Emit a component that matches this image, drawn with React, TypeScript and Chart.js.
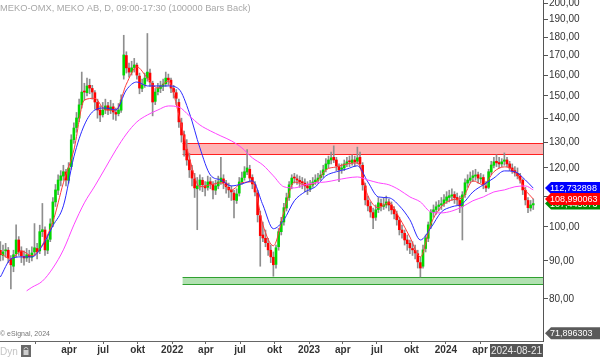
import React, { useEffect, useRef } from 'react';
import { Chart, registerables } from 'chart.js';

Chart.register(...registerables);

// Weekly bars; first bar is 458 days before 2022-01-01, one bar per week.
const START_DAY = -458;

const opens = [
  93.0, 91.5, 92.8, 93.0, 90.5, 88.5, 92.0, 96.0, 92.8, 91.2, 90.8, 91.5, 91.0, 92.5, 93.5, 92.8, 98.5, 99.0, 93.0, 96.2,
  101.0, 108.0, 112.0, 115.5, 117.0, 118.5, 115.5, 120.5, 131.0, 136.0, 140.0, 146.0, 152.0, 151.5, 155.0, 153.5, 151.5, 147.0, 143.5, 141.5,
  143.8, 145.5, 143.5, 145.0, 142.5, 142.0, 143.5, 160.0, 170.0, 163.5, 161.5, 163.8, 165.0, 159.5, 153.5, 155.5, 158.5, 161.0, 156.0, 147.5,
  152.0, 153.5, 154.5, 155.8, 158.5, 157.5, 153.5, 151.5, 147.0, 138.0, 133.0, 127.0, 123.0, 119.0, 116.0, 112.5, 113.8, 115.5, 113.5, 113.0,
  115.0, 114.0, 112.0, 113.5, 115.0, 116.0, 114.5, 113.0, 112.0, 111.0, 108.5, 111.0, 115.0, 116.5, 118.5, 119.5, 116.5, 114.0, 111.0, 103.5,
  97.5, 96.5, 95.0, 93.0, 91.0, 89.0, 94.0, 98.5, 101.5, 106.0, 109.5, 114.0, 116.5, 116.0, 115.5, 115.0, 114.5, 113.5, 112.5, 113.8,
  115.0, 115.5, 116.5, 117.5, 119.5, 121.5, 123.0, 124.0, 123.0, 120.5, 119.5, 120.0, 121.5, 122.5, 122.0, 123.0, 122.5, 124.0, 121.0, 113.5,
  108.5, 106.5, 104.5, 103.0, 105.5, 107.5, 106.5, 107.0, 108.0, 107.0, 105.5, 104.0, 102.0, 99.0, 98.0, 96.0, 95.0, 93.5, 93.0, 92.0,
  89.5, 88.5, 93.5, 96.5, 100.5, 104.5, 105.5, 106.5, 107.0, 107.5, 108.5, 109.5, 110.0, 110.5, 109.5, 108.5, 106.5, 110.5, 114.5, 115.5,
  116.5, 117.0, 117.5, 116.0, 116.5, 113.5, 113.0, 118.5, 121.0, 122.5, 122.0, 121.5, 122.5, 123.0, 121.5, 120.0, 119.0, 118.0, 117.0, 115.5,
  112.0, 108.5, 106.0, 107.0,
];
const highs = [
  95.5, 94.5, 95.0, 93.8, 91.5, 93.0, 100.6, 97.0, 94.0, 92.8, 93.5, 93.0, 94.0, 101.0, 95.0, 100.5, 107.5, 100.0, 97.5, 102.5,
  109.5, 114.0, 117.5, 119.0, 121.0, 119.5, 122.0, 133.0, 138.0, 142.5, 148.5, 161.5, 156.0, 158.5, 158.0, 155.0, 152.5, 148.5, 145.5, 147.0,
  148.5, 147.0, 148.0, 146.5, 144.5, 146.5, 150.5, 181.0, 172.0, 166.0, 167.0, 168.5, 166.0, 161.0, 158.0, 161.0, 182.0, 163.0, 157.0, 153.5,
  156.0, 157.0, 158.0, 161.5, 160.5, 158.5, 155.0, 153.0, 148.5, 140.0, 134.5, 131.0, 125.5, 121.0, 118.0, 116.5, 117.5, 116.5, 115.0, 117.0,
  116.5, 115.0, 115.5, 117.0, 124.0, 117.5, 115.5, 114.5, 113.5, 112.0, 112.5, 116.5, 118.5, 120.5, 127.0, 121.0, 117.5, 115.0, 112.0, 105.0,
  101.5, 99.0, 96.5, 94.5, 92.5, 94.5, 99.5, 103.0, 107.5, 111.0, 115.0, 117.5, 118.0, 117.5, 117.0, 116.5, 116.0, 115.0, 115.5, 116.5,
  117.5, 118.0, 119.0, 121.0, 123.5, 124.5, 126.0, 128.5, 124.0, 121.5, 121.5, 123.0, 124.0, 124.5, 125.0, 124.5, 128.0, 126.0, 122.0, 114.5,
  110.0, 108.0, 106.0, 107.0, 109.5, 109.0, 109.5, 110.0, 109.0, 108.0, 106.5, 105.0, 103.0, 100.5, 99.0, 97.5, 96.0, 95.5, 94.5, 93.0,
  91.0, 94.5, 97.5, 101.5, 105.5, 107.0, 108.0, 108.5, 109.5, 110.5, 111.5, 112.0, 112.5, 111.5, 111.0, 110.0, 111.5, 116.0, 117.5, 118.5,
  119.0, 119.5, 118.5, 118.0, 117.5, 115.0, 119.5, 122.5, 124.0, 125.0, 124.0, 123.5, 125.7, 124.0, 122.5, 121.5, 120.5, 120.0, 118.0, 116.0,
  113.0, 109.5, 108.5, 109.0,
];
const lows = [
  90.0, 90.2, 91.0, 89.5, 82.5, 87.0, 91.0, 91.5, 89.5, 88.8, 89.8, 89.5, 90.0, 91.5, 90.5, 92.0, 97.0, 91.5, 92.0, 95.5,
  100.0, 106.5, 110.5, 113.5, 115.5, 113.5, 114.5, 119.5, 129.5, 134.0, 138.5, 144.5, 148.0, 150.0, 151.0, 148.5, 144.0, 140.0, 138.5, 140.5,
  142.0, 141.5, 142.0, 139.5, 139.0, 141.0, 142.5, 158.0, 161.0, 159.0, 160.0, 161.5, 158.0, 151.0, 152.0, 154.0, 157.0, 154.5, 141.0, 146.0,
  150.5, 151.5, 152.5, 154.5, 155.0, 151.5, 149.0, 146.0, 136.0, 130.0, 124.5, 121.0, 116.5, 113.5, 109.5, 99.1, 112.0, 111.5, 110.0, 112.0,
  112.5, 109.0, 110.5, 112.5, 114.0, 112.5, 111.0, 109.5, 108.5, 102.8, 107.5, 110.0, 114.0, 115.5, 117.5, 115.0, 112.5, 110.0, 101.5, 88.5,
  95.5, 94.0, 91.5, 89.5, 85.8, 88.0, 93.0, 97.5, 100.5, 105.0, 108.5, 112.5, 114.5, 114.0, 113.0, 112.5, 111.5, 110.5, 111.5, 113.0,
  114.0, 114.5, 115.5, 116.5, 118.5, 120.0, 121.5, 122.0, 119.0, 115.0, 118.0, 119.0, 120.5, 120.5, 121.0, 120.5, 121.5, 120.0, 112.0, 107.0,
  105.0, 103.0, 99.4, 102.0, 104.5, 105.0, 105.5, 106.0, 105.0, 104.0, 102.5, 100.5, 97.5, 96.5, 94.5, 93.0, 92.0, 91.5, 90.5, 88.0,
  85.6, 88.0, 92.5, 95.5, 99.5, 103.0, 104.0, 105.0, 105.5, 106.5, 107.5, 108.0, 108.5, 107.5, 107.0, 104.5, 96.0, 109.5, 113.0, 114.5,
  115.0, 115.5, 114.5, 114.5, 112.5, 111.5, 112.5, 117.5, 120.0, 120.5, 120.0, 120.5, 121.0, 120.5, 119.0, 118.0, 117.0, 116.0, 114.5, 110.5,
  107.0, 104.5, 105.0, 105.5,
];
const closes = [
  91.7, 92.5, 93.1, 90.8, 88.9, 91.7, 96.0, 92.5, 91.4, 90.8, 91.7, 91.1, 92.2, 93.7, 92.5, 98.5, 99.1, 93.1, 96.0, 100.9,
  108.0, 112.1, 115.6, 117.1, 118.6, 115.6, 120.0, 130.9, 135.8, 140.1, 145.9, 151.8, 151.8, 154.7, 153.7, 151.8, 147.2, 143.6, 141.4, 143.6,
  145.4, 143.6, 144.9, 142.7, 141.8, 143.6, 148.1, 170.3, 163.6, 161.5, 163.6, 165.1, 160.0, 153.7, 155.2, 158.5, 161.5, 156.6, 147.2, 151.8,
  153.7, 154.7, 155.6, 158.5, 157.6, 153.7, 151.8, 148.9, 138.4, 132.9, 126.9, 123.0, 119.3, 116.3, 112.8, 113.5, 115.6, 113.9, 112.8, 114.9,
  114.2, 112.1, 113.5, 114.9, 116.3, 114.6, 113.2, 112.1, 111.4, 108.7, 110.7, 114.9, 116.3, 118.6, 120.0, 116.3, 114.2, 111.4, 103.8, 97.3,
  96.6, 95.2, 93.1, 91.1, 88.9, 93.7, 98.5, 101.6, 106.1, 109.4, 113.9, 116.3, 116.3, 115.6, 114.9, 114.6, 113.5, 112.8, 113.5, 114.9,
  115.6, 116.3, 117.4, 119.3, 121.5, 123.0, 123.8, 123.0, 120.8, 119.3, 120.0, 121.5, 122.3, 122.3, 123.0, 122.3, 123.8, 121.5, 113.9, 108.7,
  106.7, 104.7, 102.8, 105.4, 107.7, 106.7, 107.0, 108.0, 107.0, 105.4, 104.1, 102.2, 99.1, 98.2, 96.0, 94.9, 93.7, 93.1, 92.2, 89.7,
  88.0, 93.1, 96.6, 100.6, 104.7, 105.4, 106.4, 107.0, 107.4, 108.7, 109.7, 110.1, 110.4, 109.4, 108.7, 106.7, 110.4, 114.6, 115.6, 116.3,
  117.1, 117.4, 116.3, 116.3, 113.9, 112.8, 118.6, 121.1, 122.3, 121.9, 121.5, 122.3, 123.0, 121.5, 120.0, 118.9, 118.2, 117.1, 115.6, 112.1,
  108.7, 106.1, 107.0, 107.445,
];

// Moving averages, read every 4 weeks (week index of each sample)
const maWeeks = [
  0, 4, 8, 12, 16, 20, 24, 28, 32, 36, 40, 44, 48, 52, 56, 60, 64, 68, 72, 76, 80, 84, 88, 92, 96, 100,
  104, 108, 112, 116, 120, 124, 128, 132, 136, 140, 144, 148, 152, 156, 160, 164, 168, 172, 176, 180, 184, 188, 192, 196, 200, 203,
];
const maFast = [
  92.2, 90.5, 92.8, 91.4, 94.6, 101.6, 114.6, 126.9, 148.1, 148.9, 143.6, 143.6, 155.6, 164.1, 158.5, 153.7, 157.1, 141.4, 123.8, 113.2, 113.9, 114.6, 112.1, 114.6, 114.9, 100.6,
  94.3, 104.7, 114.9, 113.9, 114.6, 119.3, 120.4, 121.5, 121.9, 110.1, 106.1, 107.7, 102.8, 96.9, 91.1, 100.9, 106.4, 108.7, 109.4, 115.3, 113.9, 118.6, 120.4, 118.6, 112.1, 108.99,
];
const maMid = [
  85.6, 90.5, 91.1, 91.1, 94.3, 100.3, 106.7, 124.2, 137.1, 143.6, 144.5, 143.6, 152.8, 156.6, 154.7, 154.7, 154.7, 153.2, 142.3, 127.7, 117.4, 115.6, 113.5, 114.2, 115.3, 107.0,
  99.4, 102.2, 108.4, 111.4, 113.2, 117.1, 118.6, 119.6, 120.8, 114.9, 109.7, 109.4, 106.7, 102.2, 96.0, 99.7, 104.7, 106.4, 107.4, 111.4, 113.9, 116.3, 118.9, 118.6, 115.6, 112.73,
];
const slowWeeks = [
  10, 12, 16, 20, 24, 28, 32, 36, 40, 44, 48, 52, 56, 60, 64, 68, 72, 76, 80, 84, 88, 92, 96, 100,
  104, 108, 112, 116, 120, 124, 128, 132, 136, 140, 144, 148, 152, 156, 160, 164, 168, 172, 176, 180, 184, 188, 192, 196, 200, 203,
];
const maSlow = [
  82.0, 82.9, 84.5, 88.0, 93.1, 100.6, 107.7, 113.5, 120.0, 126.9, 133.3, 138.4, 141.4, 143.6, 145.4, 144.9, 141.0, 137.1, 134.6, 132.5, 130.5, 127.7, 123.8, 121.1,
  117.1, 113.2, 112.8, 113.9, 114.6, 114.9, 115.6, 116.3, 116.7, 115.6, 114.6, 113.9, 112.1, 109.7, 108.0, 104.7, 104.4, 105.0, 106.4, 108.4, 109.7, 111.4, 112.1, 113.2, 113.5, 112.1,
];

const resistanceBand = [125.0, 129.5];
const supportBand = [83.5, 85.6];
const BAND_START_DAY = 28;

const yTicks = [80, 90, 100, 110, 120, 130, 140, 150, 160, 170, 180, 190, 200];
const xTickDays = [-365, -275, -184, -92, 0, 90, 181, 273, 365, 455, 546, 638, 730, 821];
const xTickLabels = ['', 'apr', 'jul', 'okt', '2022', 'apr', 'jul', 'okt', '2023', 'apr', 'jul', 'okt', '2024', 'apr'];

const tags = [
  { value: 107.445073, text: '107,445073', bg: '#008c00' },
  { value: 112.732898, text: '112,732898', bg: '#0000ff' },
  { value: 108.990063, text: '108,990063', bg: '#ff0000' },
  { value: 71.896303, text: '71,896303', bg: '#5a5a5a' },
];

const TITLE = 'MEKO-OMX, MEKO AB, D, 09:00-17:30 (100000 Bars Back)';
const LAST_DATE = '2024-08-21';
const COPYRIGHT = '© eSignal, 2024';

const dayOf = (w: number) => START_DAY + 7 * w;

const bandsPlugin = {
  id: 'bands',
  beforeDatasetsDraw(chart: any) {
    const { ctx, chartArea, scales } = chart;
    const x0 = scales.x.getPixelForValue(BAND_START_DAY);
    const x1 = chartArea.right;
    const draw = (band: number[], fill: string, stroke: string) => {
      const yTop = scales.y.getPixelForValue(band[1]);
      const yBot = scales.y.getPixelForValue(band[0]);
      ctx.save();
      ctx.fillStyle = fill;
      ctx.fillRect(x0, yTop, x1 - x0, yBot - yTop);
      ctx.strokeStyle = stroke;
      ctx.lineWidth = 1;
      ctx.beginPath();
      ctx.moveTo(x0, Math.round(yTop) + 0.5);
      ctx.lineTo(x1, Math.round(yTop) + 0.5);
      ctx.moveTo(x0, Math.round(yBot) - 0.5);
      ctx.lineTo(x1, Math.round(yBot) - 0.5);
      ctx.stroke();
      ctx.restore();
    };
    draw(resistanceBand, 'rgba(255,90,90,0.45)', '#ff2020');
    draw(supportBand, 'rgba(60,180,60,0.4)', '#30a030');
  },
};

const overlayPlugin = {
  id: 'overlay',
  afterDraw(chart: any) {
    const { ctx, chartArea, scales } = chart;
    ctx.save();
    // title
    ctx.font = '9.3px Arial, "Liberation Sans", sans-serif';
    ctx.fillStyle = '#a8a8a8';
    ctx.textBaseline = 'middle';
    ctx.textAlign = 'left';
    ctx.fillText(TITLE, 0, 8);
    // copyright
    ctx.font = '7px Arial, "Liberation Sans", sans-serif';
    ctx.fillStyle = '#777';
    ctx.fillText(COPYRIGHT, 0, 334);
    // Dyn + lock
    ctx.font = '10px Arial, "Liberation Sans", sans-serif';
    ctx.fillStyle = '#c4c4c4';
    ctx.fillText('Dyn', 0, 352);
    ctx.fillStyle = '#6a6a6a';
    ctx.fillRect(21, 345, 10, 12);
    ctx.fillStyle = '#cfcfcf';
    ctx.fillRect(23.5, 350, 5, 5);
    ctx.strokeStyle = '#cfcfcf';
    ctx.lineWidth = 1;
    ctx.beginPath();
    ctx.arc(26, 349.5, 2, Math.PI, 0);
    ctx.stroke();
    // last date box
    ctx.fillStyle = '#555';
    ctx.fillRect(490, 344, chartArea.right - 490, 13);
    ctx.font = '10px Arial, "Liberation Sans", sans-serif';
    ctx.fillStyle = '#e8e8e8';
    ctx.textAlign = 'center';
    ctx.fillText(LAST_DATE, (490 + chartArea.right) / 2, 351);
    // value tags
    const xTip = chartArea.right + 2;
    tags.forEach((t) => {
      const y = scales.y.getPixelForValue(t.value);
      const h = 12;
      ctx.fillStyle = t.bg;
      ctx.beginPath();
      ctx.moveTo(xTip, y);
      ctx.lineTo(xTip + 6, y - h / 2);
      ctx.lineTo(600, y - h / 2);
      ctx.lineTo(600, y + h / 2);
      ctx.lineTo(xTip + 6, y + h / 2);
      ctx.closePath();
      ctx.fill();
      ctx.font = '9px Arial, "Liberation Sans", sans-serif';
      ctx.fillStyle = '#ffffff';
      ctx.textAlign = 'left';
      ctx.textBaseline = 'middle';
      ctx.fillText(t.text, xTip + 5, y + 0.5);
    });
    ctx.restore();
  },
};

export default function App() {
  const canvasRef = useRef<HTMLCanvasElement | null>(null);

  useEffect(() => {
    if (!canvasRef.current) return;
    const days = closes.map((_, i) => dayOf(i));
    const wickData = days.map((d, i) => ({ x: d, y: [lows[i], highs[i]] }));
    const bodyData = days.map((d, i) => ({
      x: d,
      y: [Math.min(opens[i], closes[i]), Math.max(opens[i], closes[i])],
    }));
    const bodyColors = closes.map((c, i) => (c >= opens[i] ? '#00d800' : '#ff0000'));
    const line = (weeks: number[], vals: number[]) => weeks.map((w, i) => ({ x: dayOf(w), y: vals[i] }));

    const chart = new Chart(canvasRef.current, {
      type: 'bar',
      data: {
        datasets: [
          {
            type: 'line',
            data: line(slowWeeks, maSlow),
            borderColor: '#ff44ff',
            borderWidth: 1,
            pointRadius: 0,
            cubicInterpolationMode: 'monotone',
            order: 0,
          } as any,
          {
            type: 'line',
            data: line(maWeeks, maMid),
            borderColor: '#2a2aff',
            borderWidth: 1,
            pointRadius: 0,
            cubicInterpolationMode: 'monotone',
            order: 0,
          } as any,
          {
            type: 'line',
            data: line(maWeeks, maFast),
            borderColor: '#ff3a3a',
            borderWidth: 1,
            pointRadius: 0,
            cubicInterpolationMode: 'monotone',
            order: 0,
          } as any,
          {
            type: 'bar',
            data: bodyData as any,
            backgroundColor: bodyColors,
            barThickness: 2,
            minBarLength: 1,
            grouped: false,
            borderWidth: 0,
            order: 1,
          } as any,
          {
            type: 'bar',
            data: wickData as any,
            backgroundColor: '#8e8e8e',
            barThickness: 1,
            grouped: false,
            borderWidth: 0,
            order: 2,
          } as any,
        ],
      },
      options: {
        animation: false,
        responsive: false,
        devicePixelRatio: 1,
        layout: { padding: 0 },
        plugins: { legend: { display: false }, tooltip: { enabled: false } },
        scales: {
          x: {
            type: 'linear',
            min: -459,
            max: 989,
            offset: false,
            position: 'bottom',
            afterBuildTicks: (s: any) => {
              s.ticks = xTickDays.map((v) => ({ value: v }));
            },
            afterFit: (s: any) => {
              s.height = 16;
              s.paddingLeft = 0;
              s.paddingRight = 0;
            },
            ticks: {
              autoSkip: false,
              maxRotation: 0,
              padding: 0,
              color: '#333',
              font: { family: 'Arial, "Liberation Sans", sans-serif', size: 10, weight: 'bold' },
              callback: (_v: any, idx: number) => xTickLabels[idx],
            },
            grid: { drawOnChartArea: false, drawTicks: true, tickLength: 3, color: '#666', offset: false },
            border: { display: true, color: '#666' },
          },
          y: {
            type: 'logarithmic',
            position: 'right',
            min: 70.2,
            max: 201.9,
            afterBuildTicks: (s: any) => {
              s.ticks = yTicks.map((v) => ({ value: v }));
            },
            afterFit: (s: any) => {
              s.width = 57;
              s.paddingTop = 0;
              s.paddingBottom = 0;
            },
            ticks: {
              autoSkip: false,
              padding: 1,
              color: '#333',
              font: { family: 'Arial, "Liberation Sans", sans-serif', size: 10 },
              callback: (v: any) => Number(v).toFixed(2).replace('.', ','),
            },
            grid: { drawOnChartArea: false, drawTicks: true, tickLength: 5, color: '#555' },
            border: { display: true, color: '#555' },
          },
        },
      } as any,
      plugins: [bandsPlugin, overlayPlugin],
    });
    return () => chart.destroy();
  }, []);

  return (
    <div style={{ position: 'absolute', left: 0, top: 0, width: 600, height: 357, background: '#fff' }}>
      <canvas ref={canvasRef} width={600} height={357} style={{ width: 600, height: 357, display: 'block' }} />
    </div>
  );
}
